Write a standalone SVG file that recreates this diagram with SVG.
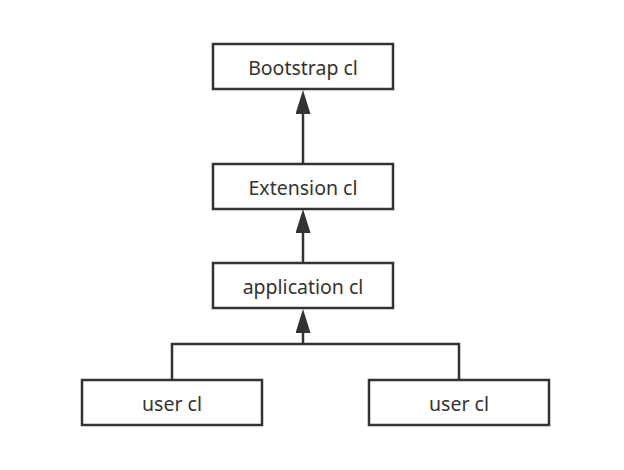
<svg xmlns="http://www.w3.org/2000/svg" width="624" height="470" viewBox="0 0 624 470">
<style>
.box{fill:#fff;stroke:#333;stroke-width:2.5}
.lbl{font-family:"Noto Sans","Open Sans","DejaVu Sans",sans-serif;font-size:19.5px;fill:#333;text-anchor:middle;dominant-baseline:central}
.conn{fill:none;stroke:#333;stroke-width:2.5}
</style>
<defs>
<marker id="arr" markerUnits="userSpaceOnUse" markerWidth="24" markerHeight="15" refX="0" refY="7.5" orient="auto" viewBox="0 0 24 15">
<path d="M0,0 L24,7.5 L0,15 Z" fill="#333"/>
</marker>
</defs>
<rect width="624" height="470" fill="#fff"/>
<g id="connectors">
<path class="conn" d="M303,164 V114" marker-end="url(#arr)"/>
<path class="conn" d="M303,263 V233" marker-end="url(#arr)"/>
<path class="conn" d="M172,380 V344 H459 V380"/>
<path class="conn" d="M303,344 V333" marker-end="url(#arr)"/>
</g>
<g id="bootstrap"><rect class="box" x="213" y="44" width="180" height="45"/><text class="lbl" x="303" y="67">Bootstrap cl</text></g>
<g id="extension"><rect class="box" x="213" y="164" width="180" height="45"/><text class="lbl" x="303" y="187">Extension cl</text></g>
<g id="application"><rect class="box" x="213" y="263" width="180" height="45"/><text class="lbl" x="303" y="286">application cl</text></g>
<g id="user1"><rect class="box" x="82" y="380" width="180" height="45"/><text class="lbl" x="172" y="403">user cl</text></g>
<g id="user2"><rect class="box" x="369" y="380" width="180" height="45"/><text class="lbl" x="459" y="403">user cl</text></g>
</svg>
